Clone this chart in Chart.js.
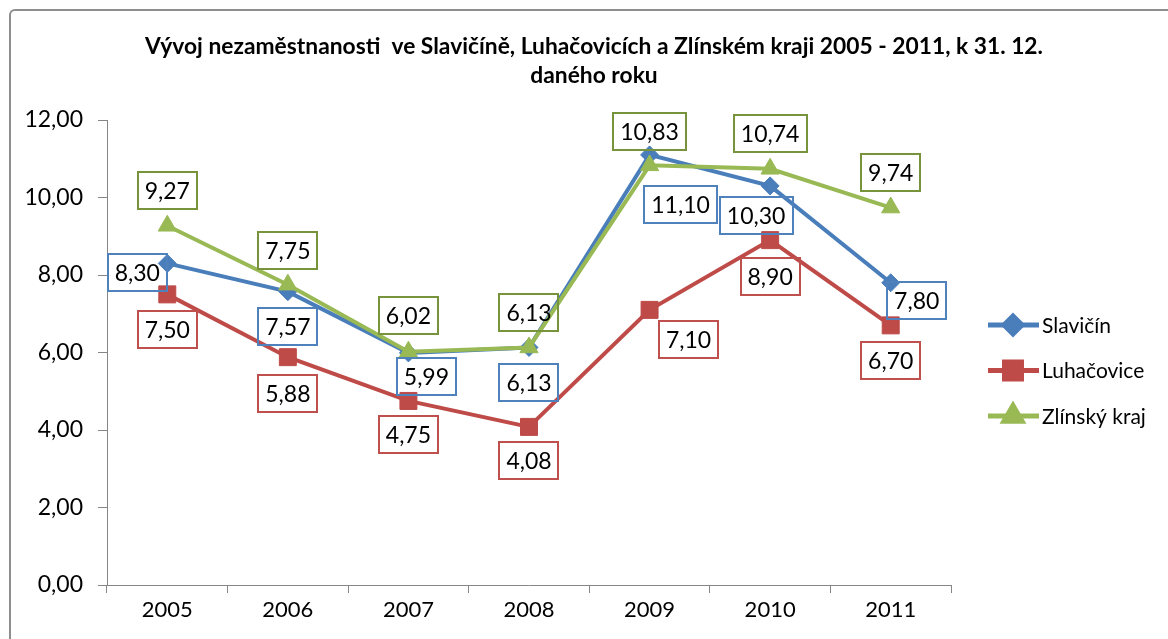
<!DOCTYPE html>
<html>
<head>
<meta charset="utf-8">
<script src="https://cdn.jsdelivr.net/npm/chart.js@4.4.1/dist/chart.umd.min.js"></script>
<style>
    html, body { margin: 0; padding: 0; background: #fff; overflow: hidden; }
    #wrap { position: relative; width: 1168px; height: 639px; }
    #frame { position: absolute; left: 9px; top: 9px; width: 1200px; height: 700px; border: 2px solid #8e8e8e; border-radius: 6px; }
    #chart { position: absolute; left: 0; top: 0; }
</style>
</head>
<body>
<div id="wrap">
    <div id="frame"></div>
    <canvas id="chart" width="1168" height="639"></canvas>
</div>
<script>
const years = ['2005', '2006', '2007', '2008', '2009', '2010', '2011'];
const slavicin = [8.30, 7.57, 5.99, 6.13, 11.10, 10.30, 7.80];
const luhacovice = [7.50, 5.88, 4.75, 4.08, 7.10, 8.90, 6.70];
const zlinskyKraj = [9.27, 7.75, 6.02, 6.13, 10.83, 10.74, 9.74];
const yTicks = [0, 2, 4, 6, 8, 10, 12];

const titleLines = ['Vývoj nezaměstnanosti  ve Slavičíně, Luhačovicích a Zlínském kraji 2005 - 2011, k 31. 12.', 'daného roku'];

// where each data label sits relative to its point (dx, dy)
const labelOffsets = [
    [[-30, 9], [0, 35], [18, 24], [0, 35], [31, 50], [-14, 30], [26, 18]],
    [[0, 35], [0, 36], [0, 34], [0, 34], [39, 30], [0, 36], [0, 35]],
    [[0, -35], [0, -34], [0, -36], [0, -35], [0, -34], [0, -35], [0, -35]]
];

const FONT = 'Lato, "Open Sans", sans-serif';
const fmt = v => v.toFixed(2).replace('.', ',');

const lineColors = ['#4A7EBB', '#BE4B48', '#98B954'];
const boxColors = ['#4F81BD', '#C0504D', '#77933C'];

const titlePlugin = {
    id: 'titleText',
    afterDraw(chart) {
        const ctx = chart.ctx;
        ctx.save();
        ctx.fillStyle = '#000';
        ctx.textAlign = 'center';
        ctx.textBaseline = 'middle';
        ctx.font = 'bold 23px ' + FONT;
        const targetW = 898;
        const w = ctx.measureText(titleLines[0]).width;
        const sx = w > targetW ? targetW / w : 1;
        ctx.translate(594, 0);
        ctx.scale(sx, 1);
        ctx.fillText(titleLines[0], 0, 47);
        ctx.fillText(titleLines[1], 0, 76);
        ctx.restore();
    }
};

const labelPlugin = {
    id: 'boxLabels',
    afterDatasetsDraw(chart) {
        const ctx = chart.ctx;
        ctx.save();
        ctx.font = '23px ' + FONT;
        ctx.textAlign = 'center';
        ctx.textBaseline = 'middle';
        chart.data.datasets.forEach((ds, i) => {
            const meta = chart.getDatasetMeta(i);
            meta.data.forEach((pt, j) => {
                const txt = fmt(ds.data[j]);
                const [dx, dy] = labelOffsets[i][j];
                const cx = pt.x + dx, cy = pt.y + dy;
                const w = ctx.measureText(txt).width + 14;
                const h = 37;
                ctx.strokeStyle = boxColors[i];
                ctx.lineWidth = 2;
                ctx.strokeRect(Math.round(cx - w / 2), Math.round(cy - h / 2), Math.round(w), h);
                ctx.fillStyle = '#000';
                ctx.fillText(txt, cx, cy + 1);
            });
        });
        ctx.restore();
    }
};

const legendPlugin = {
    id: 'sideLegend',
    afterDraw(chart) {
        const ctx = chart.ctx;
        ctx.save();
        chart.data.datasets.forEach((ds, i) => {
            const y = 325 + i * 45.5;
            ctx.strokeStyle = lineColors[i];
            ctx.lineWidth = 5;
            ctx.beginPath();
            ctx.moveTo(988, y);
            ctx.lineTo(1039, y);
            ctx.stroke();
            Chart.helpers.drawPoint(ctx, {
                pointStyle: ds.pointStyle,
                radius: ds.pointRadius,
                rotation: 0,
                borderWidth: 1
            }, 1013, y);
            ctx.fillStyle = lineColors[i];
            ctx.strokeStyle = lineColors[i];
            ctx.fill();
            ctx.fillStyle = '#000';
            ctx.font = '21px ' + FONT;
            ctx.textBaseline = 'middle';
            ctx.textAlign = 'left';
            ctx.fillText(ds.label, 1042, y + 1);
        });
        ctx.restore();
    }
};

function series(label, data, idx, style, radius, order) {
    return {
        label: label,
        data: data,
        borderColor: lineColors[idx],
        backgroundColor: lineColors[idx],
        borderWidth: 4,
        pointStyle: style,
        pointRadius: radius,
        pointHoverRadius: radius,
        pointBorderWidth: 1,
        tension: 0,
        order: order
    };
}

new Chart(document.getElementById('chart'), {
    type: 'line',
    data: {
        labels: years,
        datasets: [
            series('Slavičín', slavicin, 0, 'rectRot', 9, 2),
            series('Luhačovice', luhacovice, 1, 'rect', 12, 1),
            series('Zlínský kraj', zlinskyKraj, 2, 'triangle', 10.5, 0)
        ]
    },
    options: {
        responsive: false,
        animation: false,
        layout: { padding: { top: 120, right: 217, left: 0, bottom: 0 } },
        plugins: {
            legend: { display: false },
            title: { display: false },
            tooltip: { enabled: false }
        },
        scales: {
            x: {
                offset: true,
                grid: { offset: true, drawOnChartArea: false, tickLength: 8, color: '#868686' },
                border: { color: '#868686', width: 1 },
                ticks: { color: '#000', font: { family: FONT, size: 22 }, padding: 4 },
                afterFit(scale) { scale.height = 54; }
            },
            y: {
                min: 0,
                max: 12,
                afterBuildTicks(scale) { scale.ticks = yTicks.map(v => ({ value: v })); },
                grid: { drawOnChartArea: false, tickLength: 9, color: '#868686' },
                border: { color: '#868686', width: 1 },
                ticks: { color: '#000', font: { family: FONT, size: 23 }, padding: 15, callback: v => fmt(v) },
                afterFit(scale) { scale.width = 107; }
            }
        }
    },
    plugins: [titlePlugin, labelPlugin, legendPlugin]
});
</script>
</body>
</html>
